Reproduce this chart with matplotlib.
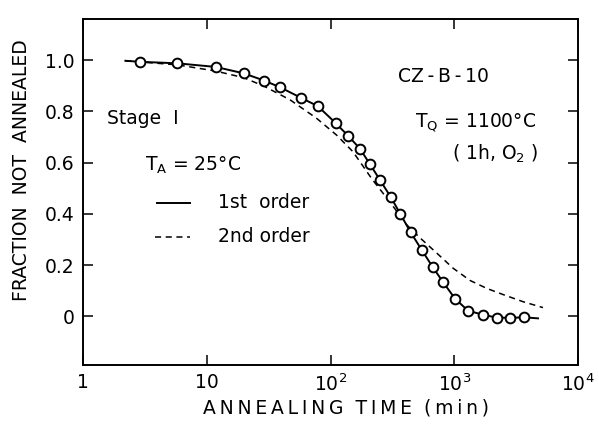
import matplotlib
matplotlib.use("Agg")
import matplotlib.pyplot as plt
import numpy as np

# Data
t_points = [2.9, 5.8, 11.8, 19.9, 29, 39, 58, 79, 110, 139, 173, 208, 251, 308, 365,
            445, 546, 670, 816, 1014, 1291, 1708, 2204, 2823, 3664]
f_points = [0.993, 0.987, 0.973, 0.948, 0.920, 0.894, 0.852, 0.820, 0.754, 0.704, 0.654,
            0.594, 0.532, 0.464, 0.401, 0.327, 0.259, 0.192, 0.132, 0.069, 0.022, 0.006,
            -0.005, -0.006, -0.002]

t_first = [2.2, 2.9, 5.8, 11.8, 19.9, 29, 39, 58, 79, 110, 139, 173, 208, 251, 308, 365,
           445, 546, 670, 816, 1014, 1291, 1708, 2204, 2823, 3664, 4750]
f_first = [0.997, 0.993, 0.987, 0.973, 0.948, 0.920, 0.894, 0.852, 0.820, 0.754, 0.704, 0.654,
           0.594, 0.532, 0.464, 0.401, 0.327, 0.259, 0.192, 0.132, 0.069, 0.022, 0.006,
           -0.005, -0.006, -0.004, -0.008]

t_second = [2.2, 5.8, 11.8, 19.9, 29, 47, 77, 112, 152, 216, 303, 413, 529, 721, 977,
            1340, 1828, 2476, 3594, 5212]
f_second = [0.997, 0.981, 0.957, 0.931, 0.898, 0.845, 0.773, 0.707, 0.642, 0.536, 0.445,
            0.357, 0.306, 0.247, 0.188, 0.140, 0.109, 0.085, 0.057, 0.034]

y_ticks = [0, 0.2, 0.4, 0.6, 0.8, 1.0]
y_ticklabels = ["0", "0.2", "0.4", "0.6", "0.8", "1.0"]
x_ticks = [1, 10, 100, 1000, 10000]
x_ticklabels = ["1", "10", "$10^2$", "$10^3$", "$10^4$"]

plt.rcParams['font.family'] = ['DejaVu Sans']
fig = plt.figure(figsize=(5.99, 4.24), dpi=100)
ax = fig.add_axes([83/599, 1 - 365/424, (578-83)/599, (365-19)/424])

ax.plot(t_first, f_first, color='black', lw=1.4, zorder=2)
ax.plot(t_second, f_second, color='black', lw=1.1, ls=(0, (4, 3)), zorder=1)
ax.plot(t_points, f_points, ls='none', marker='o', ms=7, mfc='white', mec='black', mew=1.4, zorder=3)

ax.set_xscale('log')
ax.set_xlim(1, 1e4)
ax.set_ylim(-0.19, 1.16)
ax.set_xticks(x_ticks)
ax.set_xticklabels(x_ticklabels)
ax.xaxis.set_minor_locator(matplotlib.ticker.NullLocator())
ax.set_yticks(y_ticks)
ax.set_yticklabels(y_ticklabels)
ax.tick_params(direction='in', length=7, width=1.1, top=True, right=True, labelsize=13.5, pad=6)
for s in ax.spines.values():
    s.set_linewidth(1.4)

ts = "\u2009"
def spaced(s):
    return ts.join(list(s)).replace(ts + " " + ts, "  ")

fig.text(346/599, 1 - 408/424, spaced("ANNEALING TIME (min)"), ha='center', va='center', fontsize=13.5)
fig.text(22/599, 1 - 170/424, "FRACTION  NOT  ANNEALED", ha='center', va='center',
         rotation=90, fontsize=13.5)

def tx(x, y, s, **kw):
    fig.text(x/599, 1 - y/424, s, va='center', fontsize=13.5, **kw)

tx(107, 119, "Stage  I")
tx(145, 165, r"T$_\mathregular{A}$ = 25°C")
tx(218, 203, "1st  order")
tx(218, 237, "2nd order")
tx(398, 76, "CZ\u2009-\u2009B\u2009-\u200910")
tx(415, 123, r"T$_\mathregular{Q}$ = 1100°C")
tx(452, 154, r"( 1h, O$_\mathregular{2}$ )")

fig.lines.append(plt.Line2D([157/599, 190/599], [1-203/424, 1-203/424], transform=fig.transFigure,
                            color='black', lw=1.4))
fig.lines.append(plt.Line2D([155/599, 190/599], [1-237/424, 1-237/424], transform=fig.transFigure,
                            color='black', lw=1.1, ls=(0, (4, 3))))

fig.savefig("out.png", dpi=100)
